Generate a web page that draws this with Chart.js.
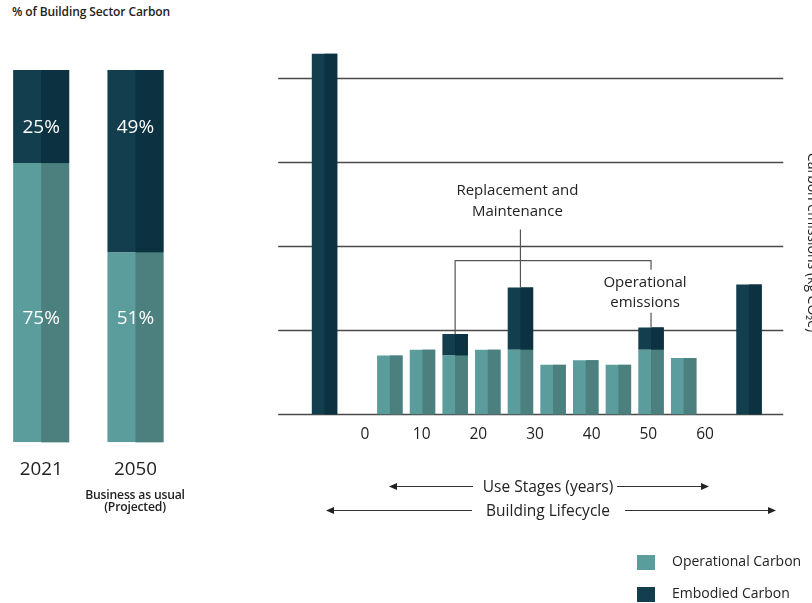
<!DOCTYPE html>
<html lang="en">
<head>
<meta charset="UTF-8">
<title>Building Sector Carbon</title>
<script src="https://cdn.jsdelivr.net/npm/chart.js"></script>
<style>
  body { margin: 0; background: #fff; font-family: "Open Sans", sans-serif; color: #222; }
  .page { position: relative; width: 812px; height: 603px; overflow: hidden; }
  .titulo { position: absolute; left: 12px; top: 3px; font-size: 12px; font-weight: 600; letter-spacing: -0.1px; }
  .sub { position: absolute; left: 75px; width: 120px; text-align: center; font-size: 12.2px; font-weight: 600; line-height: 12px; top: 489px; letter-spacing: -0.2px; }
  .eixo-dir { position: absolute; left: 708px; top: 233px; width: 210px; text-align: center; font-size: 14px; transform: rotate(90deg); white-space: nowrap; }
  .legenda { position: absolute; left: 637px; font-size: 14px; }
  .legenda span { display: inline-block; width: 18px; height: 15px; vertical-align: middle; margin-right: 17px; }
  canvas { position: absolute; }
</style>
</head>
<body>
<div class="page">
  <div class="titulo">% of Building Sector Carbon</div>
  <canvas id="graficoShare" width="200" height="470" style="left:-6px; top:60px;"></canvas>
  <div class="sub">Business as usual<br>(Projected)</div>

  <canvas id="graficoCiclo" width="542" height="440" style="left:270px; top:30px;"></canvas>
  <div class="eixo-dir">Carbon emissions (kg CO₂e)</div>

  <svg width="812" height="603" style="position:absolute; left:0; top:0;" font-family="Open Sans, sans-serif" font-size="15.5" fill="#222">
    <g stroke="#333" stroke-width="1.2">
      <line x1="394" y1="486.5" x2="473" y2="486.5" />
      <line x1="617" y1="486.5" x2="704" y2="486.5" />
      <line x1="331" y1="510.5" x2="472" y2="510.5" />
      <line x1="625" y1="510.5" x2="771" y2="510.5" />
    </g>
    <g fill="#222">
      <polygon points="389,486.5 397,483 397,490" />
      <polygon points="709,486.5 701,483 701,490" />
      <polygon points="326,510.5 334,507 334,514" />
      <polygon points="776,510.5 768,507 768,514" />
    </g>
    <text x="548" y="492" text-anchor="middle">Use Stages (years)</text>
    <text x="548" y="516" text-anchor="middle">Building Lifecycle</text>
  </svg>

  <div class="legenda" style="top:551px;"><span style="background:#5b9c9d"></span>Operational Carbon</div>
  <div class="legenda" style="top:583px;"><span style="background:#133e4e"></span>Embodied Carbon</div>
</div>

<script>
  // grafico da esquerda: participação (%)
  const anos = ['2021', '2050'];
  const pctOperacional = [75, 51];
  const pctIncorporado = [25, 49];

  // grafico da direita: ciclo de vida do edificio
  const etapas = ['Construction', '', 'Use 1', 'Use 2', 'Use 3', 'Use 4', 'Use 5', 'Use 6', 'Use 7', 'Use 8', 'Use 9', 'Use 10', '', 'End of life'];
  const carbonoOperacional = [null, null, 7.0, 7.7, 7.0, 7.7, 7.7, 5.9, 6.45, 5.9, 7.7, 6.7, null, null];
  const carbonoIncorporado = [42.9, null, 0, 0, 2.55, 0, 7.4, 0, 0, 0, 2.65, 0, null, 15.45];
  const anosUso = [0, 10, 20, 30, 40, 50, 60];
  const linhasGrade = [0, 10, 20, 30, 40];

  const corOp = '#5b9c9d', corOpEscura = '#4b807e';
  const corInc = '#133e4e', corIncEscura = '#0c3140';

  // pinta a metade direita de cada barra com o tom mais escuro
  function duasCores(escuras) {
    return {
      id: 'duasCores',
      afterDatasetsDraw(chart) {
        const ctx = chart.ctx;
        chart.data.datasets.forEach((ds, i) => {
          chart.getDatasetMeta(i).data.forEach(el => {
            const topo = Math.min(el.y, el.base);
            const h = Math.abs(el.base - el.y);
            if (!isFinite(topo) || !h) return;
            ctx.fillStyle = escuras[i];
            ctx.fillRect(el.x, topo, el.width / 2, h);
          });
        });
      }
    };
  }

  const rotulosPct = {
    id: 'rotulosPct',
    afterDatasetsDraw(chart) {
      const ctx = chart.ctx;
      ctx.save();
      ctx.fillStyle = '#fff';
      ctx.font = '19px "Open Sans"';
      ctx.textAlign = 'center';
      ctx.textBaseline = 'middle';
      chart.getDatasetMeta(0).data.forEach((el, j) => {
        ctx.fillText(pctOperacional[j] + '%', el.x, el.base - 124);
      });
      chart.getDatasetMeta(1).data.forEach((el, j) => {
        ctx.fillText(pctIncorporado[j] + '%', el.x, el.y + 58);
      });
      ctx.restore();
    }
  };

  new Chart(document.getElementById('graficoShare'), {
    type: 'bar',
    data: {
      labels: anos,
      datasets: [
        { label: 'Operational Carbon', data: pctOperacional, backgroundColor: corOp },
        { label: 'Embodied Carbon', data: pctIncorporado, backgroundColor: corInc }
      ]
    },
    options: {
      responsive: false,
      animation: false,
      layout: { padding: { left: 0, right: 11.4, top: 10, bottom: 32.3 } },
      datasets: { bar: { barPercentage: 0.594, categoryPercentage: 1 } },
      plugins: { legend: { display: false }, tooltip: { enabled: false } },
      scales: {
        x: {
          stacked: true,
          grid: { display: false, drawTicks: false },
          border: { display: false },
          ticks: { color: '#222', font: { family: 'Open Sans', size: 18.8 }, padding: 16.4 }
        },
        y: { stacked: true, display: false, min: 0, max: 100 }
      }
    },
    plugins: [duasCores([corOpEscura, corIncEscura]), rotulosPct]
  });

  const grade = {
    id: 'grade',
    beforeDatasetsDraw(chart) {
      const ctx = chart.ctx, y = chart.scales.y, area = chart.chartArea;
      ctx.save();
      ctx.strokeStyle = '#4a4a4a';
      ctx.lineWidth = 1.5;
      linhasGrade.forEach(v => {
        const py = Math.round(y.getPixelForValue(v)) + 0.5;
        ctx.beginPath();
        ctx.moveTo(area.left - 30, py);
        ctx.lineTo(area.right + 18, py);
        ctx.stroke();
      });
      ctx.restore();
    }
  };

  const anotacoes = {
    id: 'anotacoes',
    afterDatasetsDraw(chart) {
      const ctx = chart.ctx, y = chart.scales.y;
      const barras = chart.getDatasetMeta(1).data;
      const b4 = barras[4], b6 = barras[6], b10 = barras[10];
      const yCol = y.getPixelForValue(18.3);
      ctx.save();
      ctx.strokeStyle = '#555';
      ctx.lineWidth = 1.2;
      ctx.beginPath();
      ctx.moveTo(b4.x, b4.y); ctx.lineTo(b4.x, yCol); ctx.lineTo(b10.x, yCol); ctx.lineTo(b10.x, y.getPixelForValue(17.2));
      ctx.moveTo(b10.x, y.getPixelForValue(12.1)); ctx.lineTo(b10.x, b10.y);
      ctx.moveTo(b6.x, y.getPixelForValue(22)); ctx.lineTo(b6.x, b6.y);
      ctx.stroke();

      ctx.fillStyle = '#222';
      ctx.font = '15px "Open Sans"';
      ctx.textAlign = 'center';
      ctx.textBaseline = 'middle';
      ctx.fillText('Replacement and', b6.x - 3, y.getPixelForValue(26.6));
      ctx.fillText('Maintenance', b6.x - 3, y.getPixelForValue(24.1));
      ctx.fillText('Operational', b10.x - 6, y.getPixelForValue(15.7));
      ctx.fillText('emissions', b10.x - 6, y.getPixelForValue(13.3));
      ctx.restore();
    }
  };

  new Chart(document.getElementById('graficoCiclo'), {
    type: 'bar',
    data: {
      labels: etapas,
      datasets: [
        { label: 'Operational Carbon', data: carbonoOperacional, backgroundColor: corOp },
        { label: 'Embodied Carbon', data: carbonoIncorporado, backgroundColor: corInc }
      ]
    },
    options: {
      responsive: false,
      animation: false,
      layout: { padding: { left: 38.2, right: 46.7, top: 14.5, bottom: 15 } },
      datasets: { bar: { barPercentage: 0.78, categoryPercentage: 1 } },
      plugins: { legend: { display: false }, tooltip: { enabled: false } },
      scales: {
        x: { stacked: true, display: false },
        y: { stacked: true, display: false, min: 0, max: 44 },
        x2: {
          type: 'linear',
          position: 'bottom',
          offset: false,
          min: -10.02,
          max: 70.64,
          grid: { display: false, drawTicks: false },
          border: { display: false },
          afterBuildTicks(scale) { scale.ticks = anosUso.map(v => ({ value: v })); },
          ticks: { color: '#222', font: { family: 'Open Sans', size: 15.5 }, padding: 11 }
        }
      }
    },
    plugins: [grade, duasCores([corOpEscura, corIncEscura]), anotacoes]
  });
</script>
</body>
</html>
